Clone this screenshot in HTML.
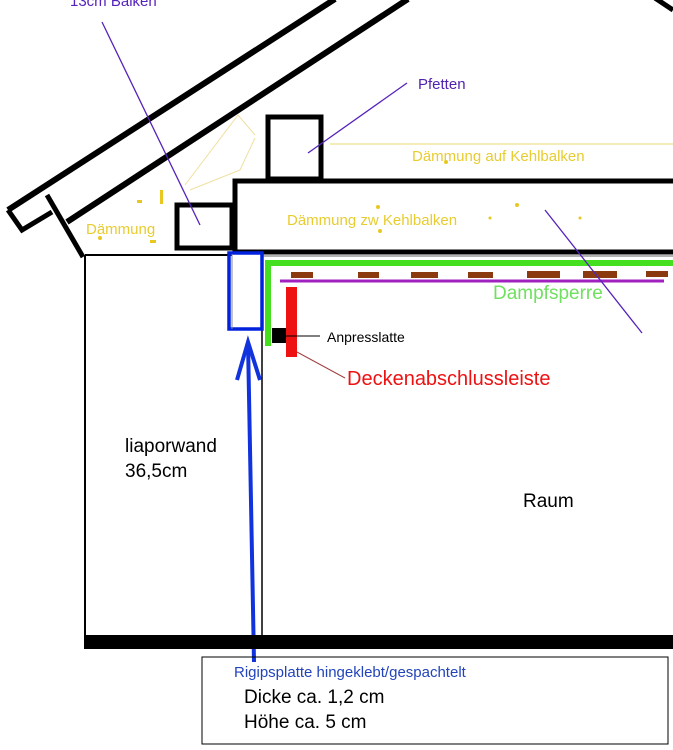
<!DOCTYPE html>
<html><head><meta charset="utf-8"><style>
html,body{margin:0;padding:0;background:#fff;}
svg{display:block;font-family:"Liberation Sans",Arial,sans-serif;}
</style></head><body>
<svg width="673" height="750" viewBox="0 0 673 750" xmlns="http://www.w3.org/2000/svg">
<rect width="673" height="750" fill="#fff"/>
<!-- roof -->
<line x1="8" y1="210" x2="335" y2="-1" stroke="#000" stroke-width="6"/>
<line x1="67" y1="222" x2="408" y2="-1" stroke="#000" stroke-width="6"/>
<polyline points="8,210 22,230 52,212" fill="none" stroke="#000" stroke-width="5"/>
<line x1="47" y1="195" x2="83" y2="257" stroke="#000" stroke-width="5"/>
<line x1="655" y1="-2" x2="673" y2="10" stroke="#000" stroke-width="5"/>
<!-- faint insulation wedge -->
<polyline points="190,190 240,170 255,138" fill="none" stroke="#eee0a0" stroke-width="1"/>
<polyline points="185,185 238,115 255,135" fill="none" stroke="#eee0a0" stroke-width="1"/>
<!-- wall -->
<line x1="85" y1="255" x2="85" y2="640" stroke="#000" stroke-width="2"/>
<line x1="85" y1="255" x2="232" y2="255" stroke="#000" stroke-width="2"/>
<line x1="262" y1="250" x2="262" y2="640" stroke="#000" stroke-width="1.5"/>
<!-- boxes -->
<rect x="177" y="205" width="55" height="43" fill="none" stroke="#000" stroke-width="5"/>
<rect x="268" y="117" width="53" height="62" fill="none" stroke="#000" stroke-width="5"/>
<!-- kehlbalken -->
<polyline points="673,181 235,181 235,252 673,252" fill="none" stroke="#000" stroke-width="5"/>
<line x1="262" y1="256" x2="673" y2="256" stroke="#666" stroke-width="1"/>
<line x1="330" y1="144" x2="673" y2="144" stroke="#eed870" stroke-width="1"/>
<!-- green -->
<polyline points="268,346 268,263 673,263" fill="none" stroke="#44e020" stroke-width="6"/>
<!-- brown bars -->
<g fill="#8b3a10">
<rect x="291" y="272" width="22" height="6"/><rect x="358" y="272" width="21" height="6"/>
<rect x="411" y="272" width="27" height="6"/><rect x="468" y="272" width="25" height="6"/>
<rect x="527" y="271" width="33" height="7"/><rect x="583" y="271" width="34" height="7"/>
<rect x="646" y="271" width="22" height="6"/></g>
<line x1="280" y1="281" x2="664" y2="281" stroke="#a020c0" stroke-width="3"/>
<!-- red bar, black square -->
<rect x="286" y="287" width="11" height="70" fill="#ee1111"/>
<rect x="272" y="328" width="14" height="15" fill="#000"/>
<line x1="286" y1="336" x2="320" y2="336" stroke="#000" stroke-width="1"/>
<line x1="297" y1="352" x2="345" y2="378" stroke="#a04040" stroke-width="1"/>
<!-- blue rect -->
<rect x="229" y="253" width="33" height="76" fill="none" stroke="#0022dd" stroke-width="3.5"/>
<line x1="232" y1="254" x2="232" y2="329" stroke="#888" stroke-width="1"/>
<!-- blue arrow -->
<polyline points="248,342 254,662" fill="none" stroke="#1133dd" stroke-width="4"/>
<polyline points="237,380 248,342 260,380" fill="none" stroke="#1133dd" stroke-width="4"/>
<!-- floor -->
<rect x="84" y="635" width="589" height="14" fill="#000"/>
<!-- leader lines purple -->
<g stroke="#5522bb" stroke-width="1.3">
<line x1="102" y1="22" x2="200" y2="225"/>
<line x1="308" y1="153" x2="407" y2="83"/>
<line x1="545" y1="210" x2="642" y2="333"/>
</g>
<!-- yellow dots -->
<g fill="#e8c820">
<rect x="160" y="190" width="3" height="14"/><rect x="137" y="200" width="5" height="3"/>
<rect x="150" y="240" width="6" height="3"/><circle cx="100" cy="238" r="2"/>
<circle cx="378" cy="207" r="2"/><circle cx="380" cy="231" r="2"/><circle cx="517" cy="205" r="2"/>
<circle cx="446" cy="162" r="2"/><circle cx="580" cy="218" r="1.5"/><circle cx="490" cy="218" r="1.5"/>
</g>
<!-- texts -->
<text x="70" y="6" font-size="15" fill="#5522bb">13cm Balken</text>
<text x="418" y="89" font-size="15" fill="#5022b0">Pfetten</text>
<text x="412" y="161" font-size="15" fill="#e8cc30">Dämmung auf Kehlbalken</text>
<text x="287" y="225" font-size="15" fill="#e8cc30">Dämmung  zw Kehlbalken</text>
<text x="86" y="234" font-size="15" fill="#e8cc30">Dämmung</text>
<text x="493" y="299" font-size="19" fill="#70e060">Dampfsperre</text>
<text x="327" y="342" font-size="14" fill="#000">Anpresslatte</text>
<text x="347" y="385" font-size="20" fill="#ee1111">Deckenabschlussleiste</text>
<text x="125" y="452" font-size="19" fill="#000">liaporwand</text>
<text x="125" y="477" font-size="19" fill="#000">36,5cm</text>
<text x="523" y="507" font-size="19" fill="#000">Raum</text>
<!-- note box -->
<rect x="202" y="657" width="466" height="87" fill="none" stroke="#000" stroke-width="1"/>
<text x="234" y="677" font-size="15" fill="#2244bb">Rigipsplatte hingeklebt/gespachtelt</text>
<text x="244" y="703" font-size="19" fill="#000">Dicke ca. 1,2 cm</text>
<text x="244" y="728" font-size="19" fill="#000">Höhe ca. 5 cm</text>
</svg>
</body></html>
